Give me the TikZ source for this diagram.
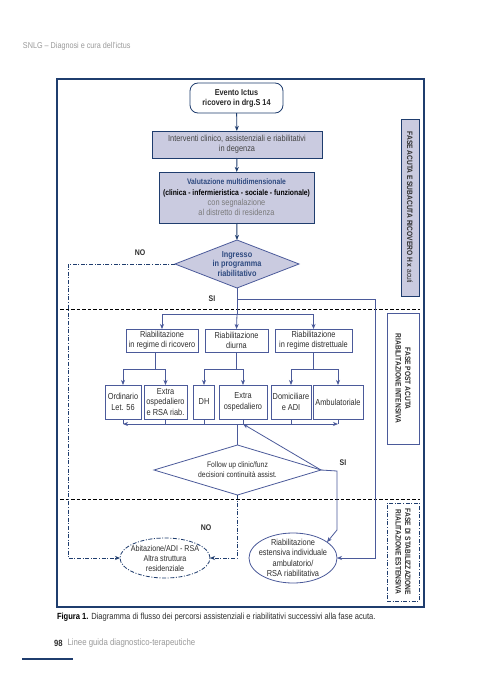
\documentclass[tikz,border=0pt]{standalone}
\usepackage{fontspec}
\setmainfont{Liberation Sans}[FakeStretch=0.85]
\usetikzlibrary{shapes.geometric,arrows.meta,calc}
\definecolor{dblue}{HTML}{1F3D6E}
\definecolor{mblue}{HTML}{4B5A9A}
\definecolor{lav}{HTML}{CACBE0}
\definecolor{tblue}{HTML}{2E4A80}
\definecolor{txtc}{HTML}{2E2E2E}
\definecolor{txtg}{HTML}{444444}
\definecolor{ltxt}{HTML}{7A7A7A}
\definecolor{hdrc}{HTML}{9A9A9A}
\begin{document}
\begin{tikzpicture}[x=1pt,y=-1pt,
  every node/.style={inner sep=0pt,outer sep=0pt},
  base/.style={font=\fontsize{8.7}{10.3}\selectfont, align=center, text=txtc},
  lavbox/.style={draw=dblue, line width=0.9pt, fill=lav, base},
  wbox/.style={draw=mblue, line width=0.8pt, fill=white, base},
  conn/.style={draw=mblue, line width=0.8pt},
  tconn/.style={draw=dblue, line width=0.9pt},
  arr/.style={-{Stealth[length=5pt,width=4pt,inset=1.5pt]}},
  dd/.style={draw=dblue, line width=0.8pt, dash pattern=on 4pt off 1.6pt on 1pt off 1.6pt},
  lbl/.style={font=\bfseries\fontsize{8.2}{9}\selectfont, text=txtc},
  side/.style={font=\bfseries\fontsize{7.8}{9.5}\selectfont, align=center, text=txtc, rotate=-90},
  sep/.style={draw=black, line width=0.6pt, dash pattern=on 3.5pt off 2pt}
]
\useasboundingbox (0,0) rectangle (484,680);
\fill[white] (0,0) rectangle (484,680);

% header
\node[anchor=west, font=\fontsize{8.5}{10}\selectfont, text=hdrc] (hdr) at (23,46) {SNLG – Diagnosi e cura dell'ictus};

% frame
\draw[dblue, line width=1.1pt] (57,79) rectangle (424,607);

% phase separators
\draw[sep] (60,309) -- (420,309);
\draw[sep] (60,499) -- (420,499);

% top chain
\node[draw=dblue, line width=0.8pt, rounded corners=8pt, fill=white, minimum width=93pt, minimum height=30pt, base, font=\bfseries\fontsize{8.6}{10}\selectfont, text=black!85] (ev) at (236.5,98) {Evento Ictus\\ricovero in drg.S 14};
\node[lavbox, minimum width=170pt, minimum height=27pt, text=txtg] (b2) at (237,144.5) {Interventi clinico, assistenziali e riabilitativi\\in degenza};
\node[lavbox, minimum width=155pt, minimum height=51pt] (b3) at (236.5,197.5) {{\color{tblue}\bfseries\fontsize{8}{10.3}\selectfont Valutazione multidimensionale}\\{\color{black}\bfseries\fontsize{8}{10.3}\selectfont (clinica - infermieristica - sociale - funzionale)}\\{\color{ltxt}con segnalazione}\\{\color{ltxt}al distretto di residenza}};
\node[diamond, draw=mblue, line width=0.8pt, fill=lav, minimum width=124pt, minimum height=48pt] (dia1) at (237,264) {};
\node[base, font=\bfseries\fontsize{8.6}{9.5}\selectfont, text=tblue] (d1t) at (237,264) {Ingresso\\in programma\\riabilitativo};

% side phase boxes
\node[draw=dblue, line width=0.9pt, fill=lav, minimum width=18pt, minimum height=177pt] (sb1) at (410,207.5) {};
\node[side] (sb1t) at (sb1.center) {FASE ACUTA E SUBACUTA RICOVERO H x {\mdseries acuti}};
\node[draw=mblue, line width=0.8pt, fill=white, minimum width=32pt, minimum height=131pt] (sb2) at (403,378.5) {};
\node[side] (sb2t) at (sb2.center) {FASE POST ACUTA\\RIABILITAZIONE INTENSIVA};
\node[dd, fill=white, minimum width=32pt, minimum height=98pt] (sb3) at (403,552) {};
\node[side] (sb3t) at (sb3.center) {FASE DI STABILIZZAZIONE\\RIALITAZIONE ESTENSIVA};

% row 1
\node[wbox, minimum width=72pt, minimum height=23pt] (rA) at (162,340.5) {Riabilitazione\\in regime di ricovero};
\node[wbox, minimum width=63pt, minimum height=23pt] (rB) at (236.5,340.5) {Riabilitazione\\diurna};
\node[wbox, minimum width=77pt, minimum height=23pt] (rC) at (313.5,340.5) {Riabilitazione\\in regime distrettuale};

% row 2
\node[wbox, minimum width=36pt, minimum height=34pt] (o1) at (123,402) {Ordinario\\Let. 56};
\node[wbox, minimum width=43pt, minimum height=34pt] (o2) at (165.5,402) {Extra\\ospedaliero\\e RSA riab.};
\node[wbox, minimum width=21pt, minimum height=34pt] (o3) at (204,402) {DH};
\node[wbox, minimum width=48pt, minimum height=34pt] (o4) at (243,402) {Extra\\ospedaliero};
\node[wbox, minimum width=40pt, minimum height=34pt] (o5) at (291,402) {Domiciliare\\e ADI};
\node[wbox, minimum width=50pt, minimum height=34pt] (o6) at (338,402) {Ambulatoriale};

% follow up diamond
\node[diamond, draw=mblue, line width=0.8pt, fill=white, minimum width=167pt, minimum height=50pt] (fu) at (237.5,470) {};
\node[base, font=\fontsize{8}{10}\selectfont] (fut) at (237.5,470) {Follow up clinic/funz\\decisioni continuità assist.};

% ellipses
\node[ellipse, dd, fill=white, minimum width=90pt, minimum height=40pt] (e1) at (165,558) {};
\node[base, font=\fontsize{8.4}{10}\selectfont] (e1t) at (165,558) {Abitazione/ADI - RSA\\Altra struttura\\residenziale};
\node[ellipse, draw=mblue, line width=0.8pt, fill=white, minimum width=88pt, minimum height=50pt] (e2) at (293,558) {};
\node[base] (e2t) at (293,558) {Riabilitazione\\estensiva individuale\\ambulatorio/\\RSA riabilitativa};

% top connectors
\draw[tconn,arr] (ev) -- (b2);
\draw[tconn,arr] (b2) -- (b3);
\draw[tconn,arr] (b3) -- (dia1.north);

% distribution to row 1
\coordinate (j1) at (237,314);
\coordinate (j2) at (237,299);
\draw[conn] (dia1.south) -- (j1);
\draw[conn] (rA.north |- j1) -- (rC.north |- j1);
\draw[conn,arr] (rA.north |- j1) -- (rA.north);
\draw[conn,arr] (j1) -- (rB.north);
\draw[conn,arr] (rC.north |- j1) -- (rC.north);

% right long branch
\coordinate (r1) at (375,299);
\coordinate (r2) at (375,558);
\draw[conn,arr] (j2) -- (r1) -- (r2) -- (e2.east);

% row 1 to row 2
\coordinate (bA) at (155,369);
\draw[conn] (rA.south -| bA) -- (bA);
\draw[conn] (o1.north |- bA) -- (o2.north |- bA);
\draw[conn,arr] (o1.north |- bA) -- (o1.north);
\draw[conn,arr] (o2.north |- bA) -- (o2.north);
\draw[conn] (rB.south) -- (rB.south |- bA);
\draw[conn] (o3.north |- bA) -- (o4.north |- bA);
\draw[conn,arr] (o3.north |- bA) -- (o3.north);
\draw[conn,arr] (o4.north |- bA) -- (o4.north);
\draw[conn] (rC.south) -- (rC.south |- bA);
\draw[conn] (o5.north |- bA) -- (o6.north |- bA);
\draw[conn,arr] (o5.north |- bA) -- (o5.north);
\draw[conn,arr] (o6.north |- bA) -- (o6.north);

% collector
\coordinate (cy) at (0,424);
\foreach \o in {o1,o2,o3,o4,o5,o6} {\draw[conn] (\o.south) -- (\o.south |- cy);}
\draw[conn,{Stealth[length=5pt,width=4pt,inset=1.5pt]}-{Stealth[length=5pt,width=4pt,inset=1.5pt]}] (o1.south |- cy) -- (o6.south |- cy);
\draw[conn] (fu.north |- cy) -- (fu.north);
\draw[conn,arr] (fu.east) -- (o4.south |- cy);

% SI to extensive
\coordinate (s1) at (337,471);
\coordinate (s2) at (337,530);
\draw[conn,arr] (fu.east) -- (s1) -- (s2) -- (e2.25);

% NO branches
\coordinate (n1) at (68,264);
\coordinate (n2) at (68,558);
\draw[dd,arr] (dia1.west) -- (n1) -- (n2) -- (e1.west);
\draw[dd,arr] (fu.south) -- (fu.south |- e1.east) -- (e1.east);

% labels
\node[lbl] (no1) at (140,253) {NO};
\node[lbl] (si1) at (212,299) {SI};
\node[lbl] (si2) at (343,463) {SI};
\node[lbl] (no2) at (206,528) {NO};

% caption
\node[anchor=west, font=\fontsize{8.9}{10}\selectfont, text=txtc] (cap) at (57,617) {{\color{black}\bfseries Figura 1.} Diagramma di flusso dei percorsi assistenziali e riabilitativi successivi alla fase acuta.};

% footer
\node[anchor=west, font=\bfseries\fontsize{9}{10}\selectfont, text=txtc] (pg) at (54,643) {98};
\node[anchor=west, font=\fontsize{9.2}{10}\selectfont, text=hdrc] (ft) at (67.5,643) {Linee guida diagnostico-terapeutiche};
\draw[dblue, line width=1.6pt] (22,659) -- (73,659);
\end{tikzpicture}
\end{document}
